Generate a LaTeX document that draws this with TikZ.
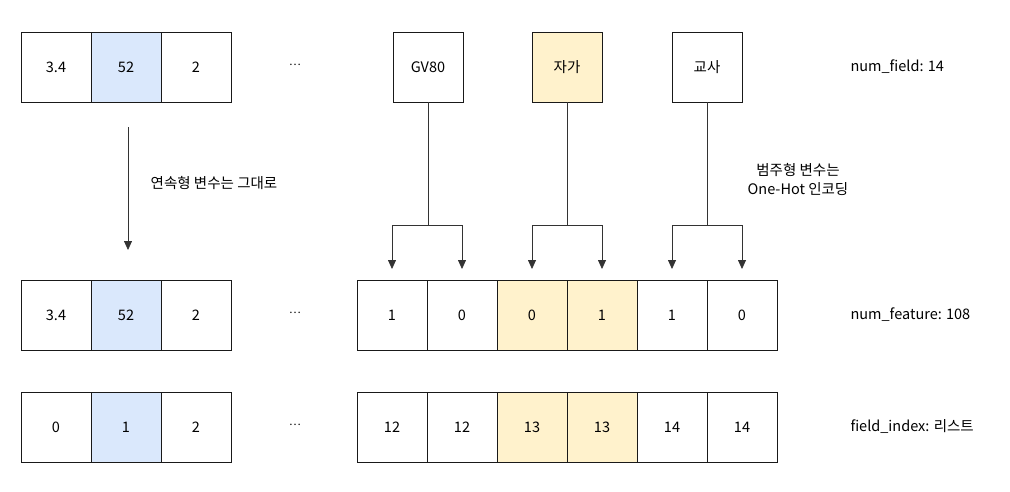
\documentclass[tikz,border=0pt]{standalone}
\usepackage{fontspec}
\setmainfont{Noto Sans CJK KR}
\usetikzlibrary{arrows.meta, positioning}

\definecolor{cellblue}{HTML}{DAE8FC}
\definecolor{cellyellow}{HTML}{FFF2CC}
\definecolor{linegray}{HTML}{333333}

\tikzset{
	cell/.style={draw=black!90, line width=0.8pt, rectangle, minimum width=70pt, minimum height=70pt, inner sep=0pt, outer sep=0pt, font=\fontsize{14.5}{16}\selectfont},
	bluecell/.style={cell, fill=cellblue},
	yellowcell/.style={cell, fill=cellyellow},
	dots/.style={font=\fontsize{11}{12}\selectfont},
	note/.style={anchor=west, font=\fontsize{14.5}{16}\selectfont},
	caption/.style={align=center, font=\fontsize{14.5}{19}\selectfont},
	conn/.style={draw=linegray, line width=0.8pt},
	arr/.style={conn, -{Triangle[width=8pt, length=9pt]}}
}

\begin{document}
\begin{tikzpicture}[x=1pt, y=-1pt]
		\useasboundingbox (0, 0) rectangle (1010, 491);

		% Raw fields
		\begin{scope}
			\node (raw_a) at (56, 67) [cell] {3.4};
			\node (raw_b) at (raw_a.east) [bluecell, anchor=west] {52};
			\node (raw_c) at (raw_b.east) [cell, anchor=west] {2};
			\node (raw_dots) at (295, 65) [dots] {…};

			\node (gv80) at (428, 67) [cell] {GV80};
			\node (jaga) at (567, 67) [yellowcell] {자가};
			\node (gyosa) at (707, 67) [cell] {교사};

			\node (num_field) at (847, 67) [note] {num\_field: 14};
		\end{scope}

		% Features
		\begin{scope}
			\node (feat_a) at (56, 315) [cell] {3.4};
			\node (feat_b) at (feat_a.east) [bluecell, anchor=west] {52};
			\node (feat_c) at (feat_b.east) [cell, anchor=west] {2};
			\node (feat_dots) at (295, 313) [dots] {…};

			\node (oh_a) at (392, 315) [cell] {1};
			\node (oh_b) at (oh_a.east) [cell, anchor=west] {0};
			\node (oh_c) at (oh_b.east) [yellowcell, anchor=west] {0};
			\node (oh_d) at (oh_c.east) [yellowcell, anchor=west] {1};
			\node (oh_e) at (oh_d.east) [cell, anchor=west] {1};
			\node (oh_f) at (oh_e.east) [cell, anchor=west] {0};

			\node (num_feature) at (847, 315) [note] {num\_feature: 108};
		\end{scope}

		% Field index
		\begin{scope}
			\node (idx_a) at (56, 427) [cell] {0};
			\node (idx_b) at (idx_a.east) [bluecell, anchor=west] {1};
			\node (idx_c) at (idx_b.east) [cell, anchor=west] {2};
			\node (idx_dots) at (295, 425) [dots] {…};

			\node (fi_a) at (392, 427) [cell] {12};
			\node (fi_b) at (fi_a.east) [cell, anchor=west] {12};
			\node (fi_c) at (fi_b.east) [yellowcell, anchor=west] {13};
			\node (fi_d) at (fi_c.east) [yellowcell, anchor=west] {13};
			\node (fi_e) at (fi_d.east) [cell, anchor=west] {14};
			\node (fi_f) at (fi_e.east) [cell, anchor=west] {14};

			\node (field_index) at (847, 427) [note] {field\_index: 리스트};
		\end{scope}

		% Continuous
		\begin{scope}
			\coordinate (keep_top) at (128, 127);
			\coordinate (keep_bot) at (128, 250);
			\draw[arr] (keep_top) -- (keep_bot);
			\node (keep_text) at (214, 183) [caption] {연속형 변수는 그대로};
		\end{scope}

		% One-hot
		\begin{scope}
			\coordinate (gv80_split) at ([yshift=-123pt]gv80.south);
			\coordinate (jaga_split) at ([yshift=-123pt]jaga.south);
			\coordinate (gyosa_split) at ([yshift=-123pt]gyosa.south);

			\coordinate (oh_a_in) at ([yshift=11pt]oh_a.north);
			\coordinate (oh_b_in) at ([yshift=11pt]oh_b.north);
			\coordinate (oh_c_in) at ([yshift=11pt]oh_c.north);
			\coordinate (oh_d_in) at ([yshift=11pt]oh_d.north);
			\coordinate (oh_e_in) at ([yshift=11pt]oh_e.north);
			\coordinate (oh_f_in) at ([yshift=11pt]oh_f.north);

			\draw[conn] (gv80.south) -- (gv80_split);
			\draw[arr] (gv80_split) -| (oh_a_in);
			\draw[arr] (gv80_split) -| (oh_b_in);

			\draw[conn] (jaga.south) -- (jaga_split);
			\draw[arr] (jaga_split) -| (oh_c_in);
			\draw[arr] (jaga_split) -| (oh_d_in);

			\draw[conn] (gyosa.south) -- (gyosa_split);
			\draw[arr] (gyosa_split) -| (oh_e_in);
			\draw[arr] (gyosa_split) -| (oh_f_in);

			\node (onehot_text) at (798, 179) [caption] {범주형 변수는\\One-Hot 인코딩};
		\end{scope}

	\end{tikzpicture}
\end{document}
